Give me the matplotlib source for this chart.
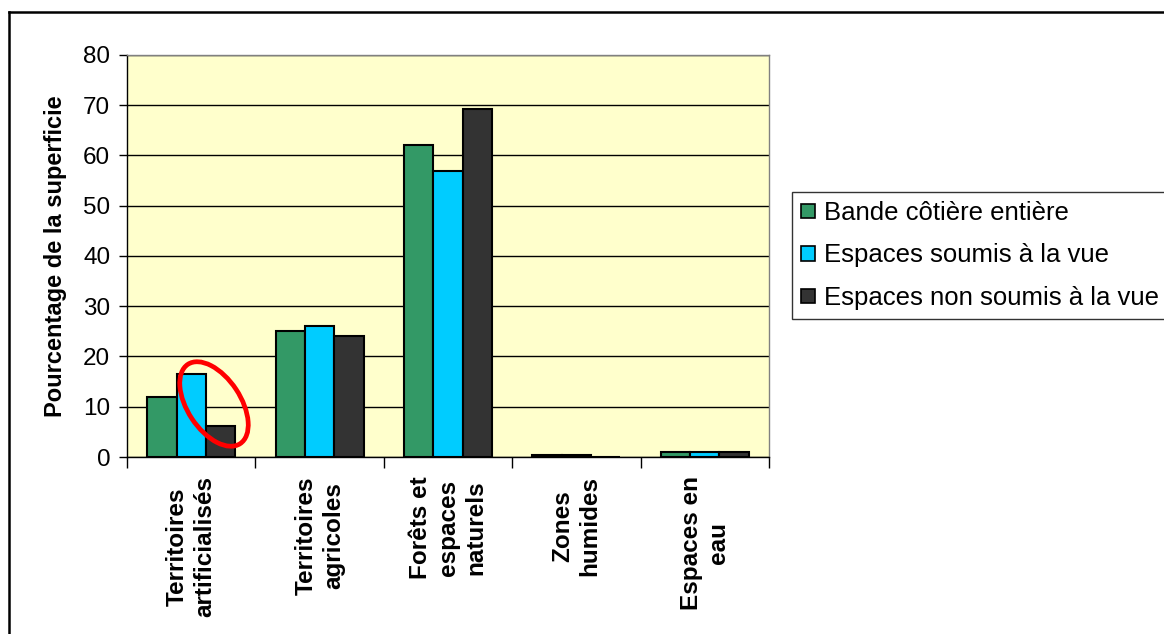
import matplotlib
matplotlib.use("Agg")
import matplotlib.pyplot as plt
import numpy as np
from matplotlib.patches import Ellipse, Patch
from matplotlib.lines import Line2D

categories = ["Territoires\nartificialisés", "Territoires\nagricoles",
              "Forêts et\nespaces\nnaturels", "Zones\nhumides", "Espaces en\neau"]
series_names = ["Bande côtière entière", "Espaces soumis à la vue",
                "Espaces non soumis à la vue"]
bande = [12.0, 25.1, 62.0, 0.4, 0.9]
soumis = [16.5, 26.0, 57.0, 0.4, 0.9]
non_soumis = [6.2, 24.0, 69.3, 0.0, 0.9]
colors = ["#339966", "#00CCFF", "#333333"]
yticks = [0, 10, 20, 30, 40, 50, 60, 70, 80]

plt.rcParams['font.family'] = ['Liberation Sans', 'DejaVu Sans']

W, H = 1164, 634
fig = plt.figure(figsize=(W / 100, H / 100), dpi=100)
fig.patch.set_facecolor("white")
ax = fig.add_axes([127 / W, 1 - 457 / H, (769 - 127) / W, (457 - 55) / H])
ax.set_facecolor("#FFFFCC")

x = np.arange(len(categories))
bw = 0.228
for i, (vals, c, name) in enumerate(zip([bande, soumis, non_soumis], colors, series_names)):
    ax.bar(x + (i - 1) * bw, vals, width=bw, color=c, edgecolor="black",
           linewidth=1.5, label=name, zorder=3)

ax.set_xlim(-0.5, len(categories) - 0.5)
ax.set_ylim(0, 80)
ax.set_yticks(yticks)
ax.set_yticklabels([str(v) for v in yticks], fontsize=17.5)
ax.yaxis.grid(True, color="black", linewidth=1.0, zorder=0)
ax.set_axisbelow(True)

ax.set_xticks(x)
ax.set_xticklabels(categories, rotation=90, fontsize=17.5, fontweight="bold",
                   ha="center", va="top", multialignment="center", linespacing=1.25)
ax.tick_params(axis="x", which="major", length=0, pad=14)
ax.set_xticks(np.arange(-0.5, len(categories), 1.0), minor=True)
ax.tick_params(axis="x", which="minor", length=8, width=1, color="black", direction="out")
ax.tick_params(axis="y", length=6, width=1, direction="out", pad=6)

ax.set_ylabel("Pourcentage de la superficie", fontsize=17, fontweight="bold", labelpad=12)

for s in ["top", "right"]:
    ax.spines[s].set_color("#808080")
    ax.spines[s].set_linewidth(1.0)
ax.spines["left"].set_color("black")
ax.spines["bottom"].set_color("black")
ax.spines["left"].set_linewidth(1.0)
ax.spines["bottom"].set_linewidth(1.0)

handles = [Patch(facecolor=c, edgecolor="black", linewidth=1.2) for c in colors]
leg = fig.legend(handles, series_names, loc="upper left",
                 bbox_to_anchor=(792 / W, 1 - 192 / H), bbox_transform=fig.transFigure,
                 fontsize=18.5, frameon=True, fancybox=False, edgecolor="black",
                 handlelength=0.55, handleheight=0.5, handletextpad=0.35,
                 labelspacing=0.72, borderpad=0.35, borderaxespad=0)
leg.get_frame().set_linewidth(1.0)

# red ellipse highlighting the first group
ell = Ellipse((2.14, 6.34 - 4.04), 0.95, 0.53, angle=-56.6, fill=False,
              edgecolor="#FF0000", linewidth=3.4, transform=fig.dpi_scale_trans,
              clip_on=False, zorder=10)
fig.add_artist(ell)

# outer chart frame
fig.add_artist(Line2D([9 / W, 1.0], [1 - 12 / H, 1 - 12 / H], color="black",
                      linewidth=1.8, transform=fig.transFigure))
fig.add_artist(Line2D([9 / W, 9 / W], [1 - 12 / H, 0.0], color="black",
                      linewidth=1.8, transform=fig.transFigure))

fig.savefig("out.png", dpi=100)
